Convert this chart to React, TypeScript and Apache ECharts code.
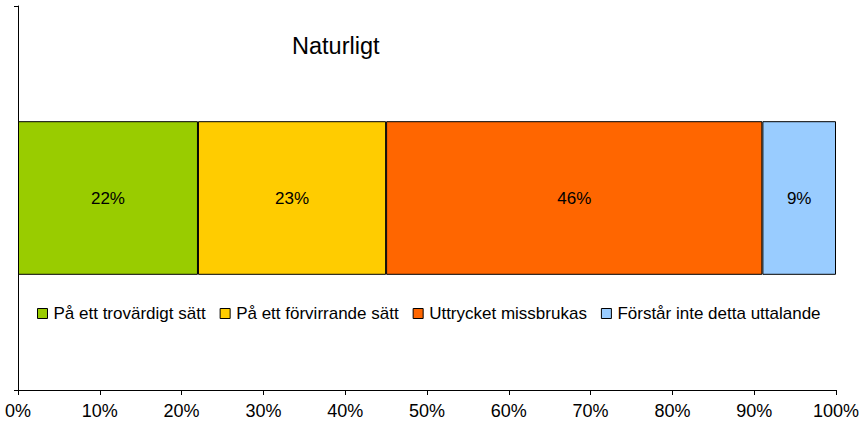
import React, { useEffect, useRef } from "react";
import * as echarts from "echarts";

const categories = ["Naturligt"];
const seriesNames = [
  "På ett trovärdigt sätt",
  "På ett förvirrande sätt",
  "Uttrycket missbrukas",
  "Förstår inte detta uttalande",
];
const seriesValues = [[22], [23], [46], [9]];
const colors = ["#99CC00", "#FFCC00", "#FF6600", "#99CCFF"];
const xTicks = [0, 10, 20, 30, 40, 50, 60, 70, 80, 90, 100];

const FONT = "'Liberation Sans', Arial, sans-serif";

export default function App() {
  const ref = useRef<HTMLDivElement>(null);
  useEffect(() => {
    if (!ref.current) return;
    const chart = echarts.init(ref.current, undefined, { renderer: "svg" });
    chart.setOption({
      animation: false,
      backgroundColor: "#ffffff",
      title: {
        text: categories[0],
        left: 287,
        top: 29,
        textStyle: { fontFamily: FONT, fontSize: 23.5, fontWeight: "normal", color: "#000" },
      },
      legend: {
        data: seriesNames,
        left: 32,
        top: 300,
        icon: "rect",
        itemWidth: 10,
        itemHeight: 10,
        itemGap: 14,
        textStyle: { fontFamily: FONT, fontSize: 17, color: "#000", padding: [0, 0, 0, 1] },
        itemStyle: { borderColor: "#000", borderWidth: 1 },
      },
      grid: { left: 18, right: 31, top: 6, bottom: 37, containLabel: false },
      xAxis: {
        type: "value",
        min: xTicks[0],
        max: xTicks[xTicks.length - 1],
        interval: 10,
        axisLine: { show: true, lineStyle: { color: "#000", width: 1 } },
        axisTick: { show: true, length: 5, lineStyle: { color: "#000" } },
        splitLine: { show: false },
        axisLabel: {
          formatter: "{value}%",
          margin: 12,
          fontFamily: FONT,
          fontSize: 18,
          color: "#000",
        },
      },
      yAxis: {
        type: "category",
        data: categories,
        axisLine: { show: true, lineStyle: { color: "#000", width: 1 } },
        axisTick: { show: true, length: 4, lineStyle: { color: "#000" } },
        axisLabel: { show: false },
        splitLine: { show: false },
      },
      series: seriesNames.map((name, i) => ({
        name,
        type: "bar",
        stack: "total",
        barWidth: "40%",
        data: seriesValues[i],
        itemStyle: { color: colors[i], borderColor: "#000", borderWidth: 1 },
        label: {
          show: true,
          position: "inside",
          formatter: "{c}%",
          fontFamily: FONT,
          fontSize: 17,
          color: "#000",
        },
      })),
    });
    return () => chart.dispose();
  }, []);
  return (
    <div
      ref={ref}
      style={{ position: "fixed", left: 0, top: 0, width: 867, height: 427 }}
    />
  );
}
